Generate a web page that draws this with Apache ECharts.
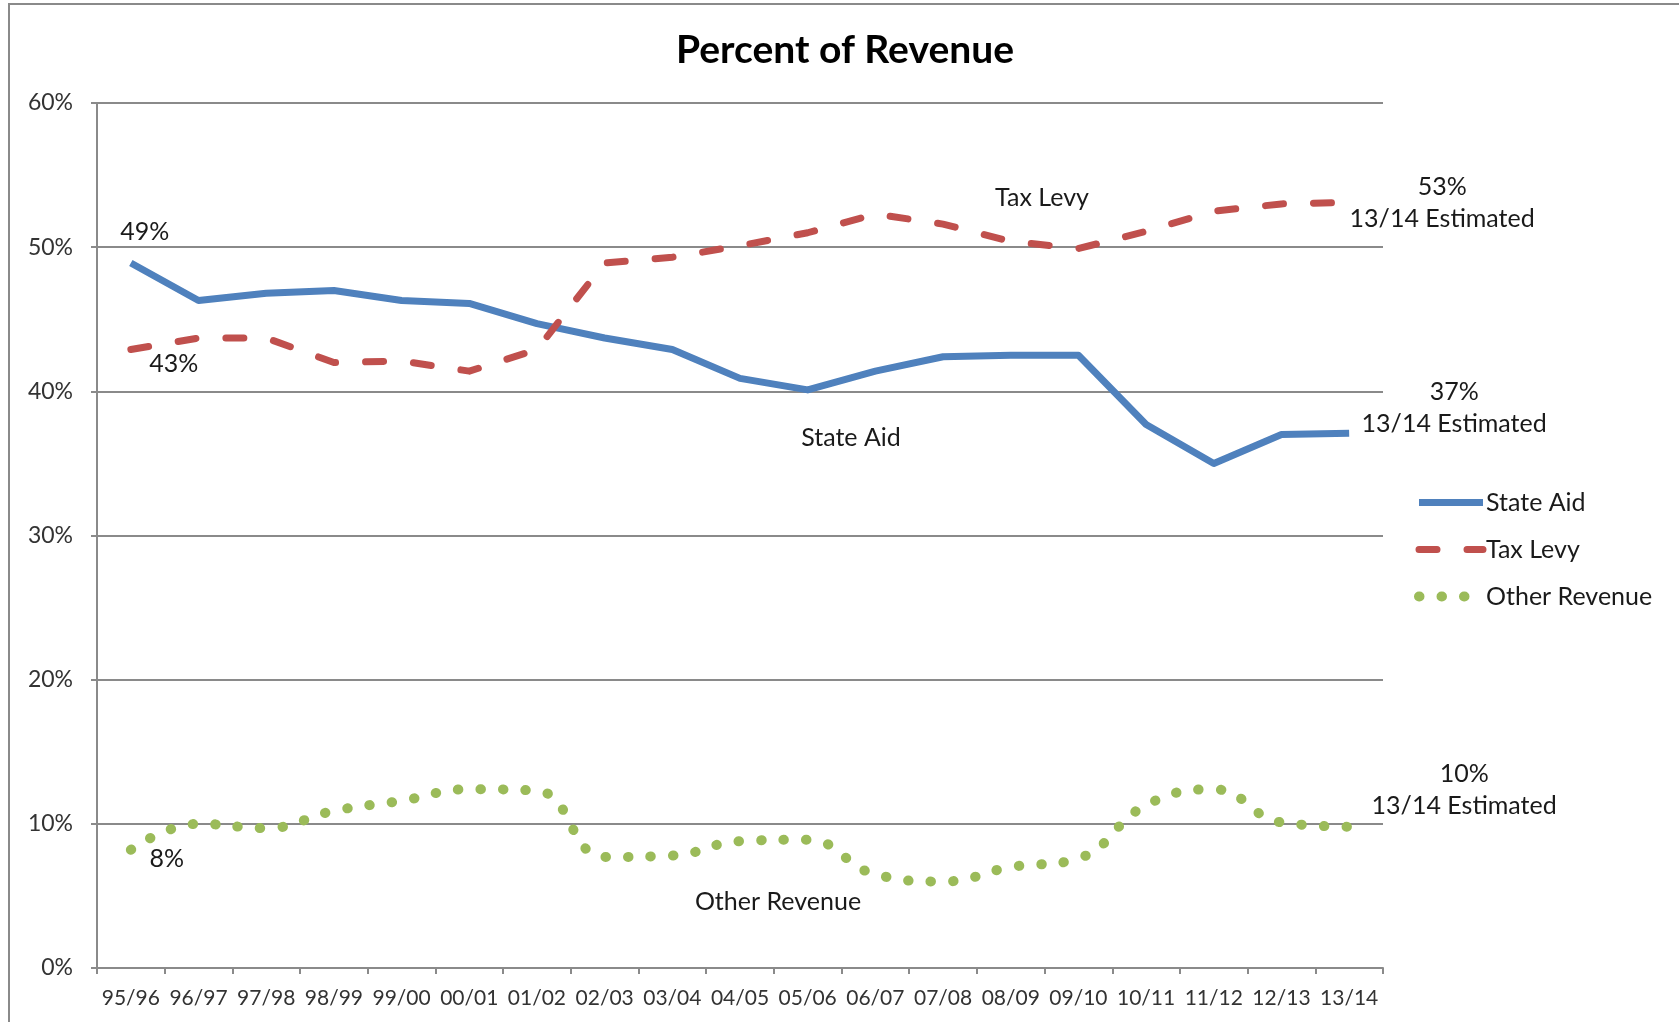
<!DOCTYPE html>
<html><head><meta charset="utf-8">
<script src="https://cdn.jsdelivr.net/npm/echarts@6/dist/echarts.min.js"></script>
<style>html,body{margin:0;padding:0;background:#fff}#c{width:1679px;height:1022px}</style>
</head><body><div id="c"></div>
<script>
const categories = ['95/96','96/97','97/98','98/99','99/00','00/01','01/02','02/03','03/04','04/05','05/06','06/07','07/08','08/09','09/10','10/11','11/12','12/13','13/14'];
const stateAid = [48.9,46.3,46.8,47.0,46.3,46.1,44.7,43.7,42.9,40.9,40.1,41.4,42.4,42.5,42.5,37.7,35.0,37.0,37.1];
const taxLevy = [42.9,43.7,43.7,42.0,42.1,41.4,42.9,48.9,49.3,50.1,51.0,52.3,51.6,50.4,49.9,51.1,52.5,53.0,53.1];
const otherRevenue = [8.2,10.0,9.7,10.9,11.6,12.4,12.3,7.7,7.8,8.8,8.9,6.5,6.0,7.0,7.6,11.3,12.4,10.1,9.8];
const seriesNames = ['State Aid','Tax Levy','Other Revenue'];
const estimatedNote = '13/14 Estimated';

const FONT = 'Lato';
const TXT = '#1a1a1a';
const GRID = '#8a8a8a';

const styleBlue = {color: '#4F81BD', width: 7, join: 'round', cap: 'butt'};
const styleRed = {color: '#C0504D', width: 7, type: [18, 30], cap: 'round', join: 'round'};
const styleGreen = {color: '#9BBB59', width: 10, type: [0.5, 22], cap: 'round'};

function withLabels(arr, first, last) {
  return arr.map((v, i) => {
    if (i === 0) return {value: v, label: Object.assign({show: true, position: 'inside',
      formatter: p => Math.round(p.value) + '%'}, first)};
    if (i === arr.length - 1) return {value: v, label: Object.assign({show: true, position: 'inside',
      formatter: p => Math.round(p.value) + '%\n' + estimatedNote}, last)};
    return v;
  });
}
const labelBase = {fontFamily: FONT, fontSize: 25, color: TXT, align: 'center', verticalAlign: 'middle', lineHeight: 32};

const chart = echarts.init(document.getElementById('c'), null, {renderer: 'canvas'});
chart.setOption({
  backgroundColor: '#fff',
  animation: false,
  title: {
    text: 'Percent of Revenue', left: 840, textAlign: 'center', top: 26,
    textStyle: {fontFamily: FONT, fontWeight: 'bold', fontSize: 39, color: '#000'}
  },
  legend: {
    orient: 'vertical', left: 1414, top: 490, itemWidth: 64, itemHeight: 14, itemGap: 22, padding: 0,
    data: [
      {name: seriesNames[0], lineStyle: styleBlue},
      {name: seriesNames[1], lineStyle: styleRed},
      {name: seriesNames[2], lineStyle: styleGreen}
    ],
    itemStyle: {opacity: 0},
    textStyle: {fontFamily: FONT, fontSize: 25, color: TXT, padding: [0,0,0,-2]}
  },
  grid: {left: 97, top: 103, width: 1286, height: 865, containLabel: false},
  xAxis: {
    type: 'category', data: categories, boundaryGap: true,
    axisLine: {lineStyle: {color: GRID, width: 2}},
    axisTick: {show: true, length: 6, interval: 0, alignWithLabel: false, lineStyle: {color: GRID, width: 2}},
    axisLabel: {interval: 0, fontFamily: FONT, fontSize: 21, color: '#333', margin: 20}
  },
  yAxis: {
    type: 'value', min: 0, max: 60, interval: 10,
    axisLine: {show: true, lineStyle: {color: GRID, width: 2}},
    axisTick: {show: true, length: 6, lineStyle: {color: GRID, width: 2}},
    axisLabel: {formatter: '{value}%', fontFamily: FONT, fontSize: 23, color: '#333', margin: 24},
    splitLine: {show: true, lineStyle: {color: GRID, width: 2}}
  },
  series: [
    {
      name: seriesNames[0], type: 'line', smooth: false, symbol: 'circle', symbolSize: 0, showSymbol: true,
      lineStyle: styleBlue,
      itemStyle: {color: '#4F81BD'},
      label: Object.assign({show: false}, labelBase),
      data: withLabels(stateAid, Object.assign({}, labelBase, {offset: [14, -31]}), Object.assign({}, labelBase, {offset: [105, -25]})),
      z: 3
    },
    {
      name: seriesNames[1], type: 'line', smooth: false, symbol: 'circle', symbolSize: 0, showSymbol: true,
      lineStyle: styleRed,
      itemStyle: {color: '#C0504D'},
      label: Object.assign({show: false}, labelBase),
      data: withLabels(taxLevy, Object.assign({}, labelBase, {offset: [43, 14]}), Object.assign({}, labelBase, {offset: [93, 0]})),
      z: 4
    },
    {
      name: seriesNames[2], type: 'line', smooth: 0.45, symbol: 'circle', symbolSize: 0, showSymbol: true,
      lineStyle: styleGreen,
      itemStyle: {color: '#9BBB59'},
      label: Object.assign({show: false}, labelBase),
      data: withLabels(otherRevenue, Object.assign({}, labelBase, {offset: [36, 9]}), Object.assign({}, labelBase, {offset: [115, -37]})),
      z: 2
    }
  ],
  graphic: [
    {type: 'rect', silent: true, z: -10, shape: {x: 9, y: 4, width: 1720, height: 1100}, style: {fill: 'none', stroke: '#8a8a8a', lineWidth: 2}},
    {type: 'text', silent: true, x: 1042, y: 198, style: {text: seriesNames[1], font: '25px ' + FONT, fill: TXT, textAlign: 'center', textVerticalAlign: 'middle'}},
    {type: 'text', silent: true, x: 851, y: 438, style: {text: seriesNames[0], font: '25px ' + FONT, fill: TXT, textAlign: 'center', textVerticalAlign: 'middle'}},
    {type: 'text', silent: true, x: 778, y: 902, style: {text: seriesNames[2], font: '25px ' + FONT, fill: TXT, textAlign: 'center', textVerticalAlign: 'middle'}}
  ]
});
</script></body></html>
